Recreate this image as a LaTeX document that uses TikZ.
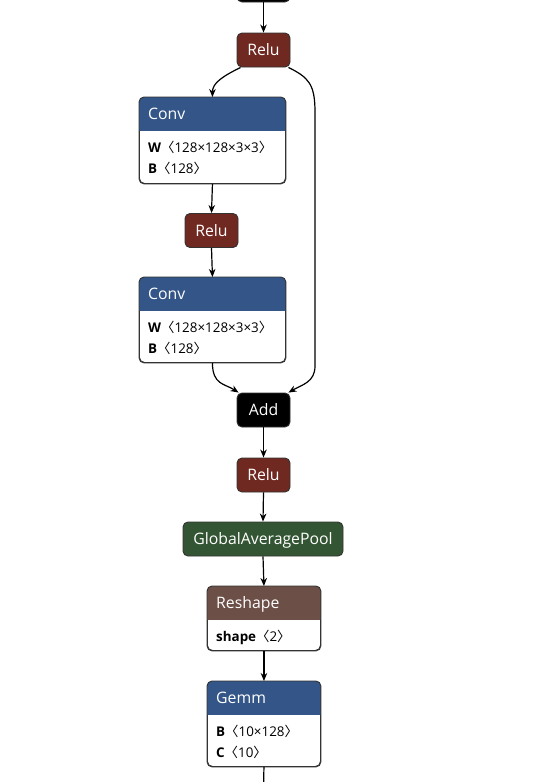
\documentclass[tikz,border=0pt]{standalone}
\usepackage{fontspec}
\setmainfont{Open Sans}
\newfontfamily\cjkfont{Noto Sans CJK SC}
\usetikzlibrary{arrows.meta}
\definecolor{actc}{RGB}{112,41,33}
\definecolor{layerc}{RGB}{51,85,136}
\definecolor{poolc}{RGB}{51,85,51}
\definecolor{shapec}{RGB}{108,79,71}
\definecolor{borderc}{RGB}{51,51,51}
\newcommand{\abra}{{\cjkfont 〈}}
\newcommand{\aket}{{\cjkfont 〉}}
% compound node: name, x-left, y-top, width, height, header colour
\newcommand{\compnode}[6]{%
  \node[cbox, minimum width=#4pt, minimum height=#5pt, anchor=north west] (#1) at (#2,#3) {};
  \begin{scope}
    \clip[rounded corners=5pt] (#1.north west) rectangle (#1.south east);
    \fill[#6] (#1.north west) rectangle ([yshift=-34pt]#1.north east);
  \end{scope}
  \draw[borderc, line width=0.9pt, rounded corners=5pt] (#1.north west) rectangle (#1.south east);
}
\begin{document}
\begin{tikzpicture}[x=1pt,y=-1pt,
  op/.style={rounded corners=5pt, draw=borderc, line width=0.9pt, minimum height=34pt,
    inner sep=0pt, text=white, font=\fontsize{15.8}{18}\selectfont, text height=11.5pt, text depth=0pt},
  cbox/.style={draw=borderc, fill=white, line width=0.9pt, rounded corners=5pt, inner sep=0pt},
  hdr/.style={anchor=west, inner sep=0pt, text=white, font=\fontsize{15.8}{18}\selectfont, text height=11.5pt, text depth=0pt},
  attr/.style={anchor=west, inner sep=0pt, text=black, font=\fontsize{13.4}{16}\selectfont, text height=9.6pt, text depth=0pt},
  edge/.style={line width=1.2pt, -{Stealth[length=8pt,width=6.5pt,inset=2.5pt]}},
]
\useasboundingbox[fill=white] (0,0) rectangle (537,782);

% top (cut off) node
\node[op, fill=black, minimum width=53pt] (top) at (263.5,-15) {};

\node[op, fill=actc, minimum width=53pt] (relu1) at (263.5,50) {Relu};

\compnode{conv1}{139}{97}{146}{86}{layerc}
\node[hdr] (conv1t) at (148,114) {Conv};
\node[attr] (conv1w) at (148,148) {\textbf{W}\abra 128×128×3×3\aket};
\node[attr] (conv1b) at (148,168.5) {\textbf{B}\abra 128\aket};

\node[op, fill=actc, minimum width=53pt] (relu2) at (211.5,230.5) {Relu};

\compnode{conv2}{139}{277}{146}{85}{layerc}
\node[hdr] (conv2t) at (148,294) {Conv};
\node[attr] (conv2w) at (148,328) {\textbf{W}\abra 128×128×3×3\aket};
\node[attr] (conv2b) at (148,348.5) {\textbf{B}\abra 128\aket};

\node[op, fill=black, minimum width=53pt] (add) at (263.5,410) {Add};

\node[op, fill=actc, minimum width=53pt] (relu3) at (263.5,475) {Relu};

\node[op, fill=poolc, minimum width=160pt] (gap) at (263,539) {GlobalAveragePool};

\compnode{reshape}{207}{586}{113}{64}{shapec}
\node[hdr] (reshapet) at (216,603) {Reshape};
\node[attr] (reshapes) at (216,636.5) {\textbf{shape}\abra 2\aket};

\compnode{gemm}{207}{681}{113}{85}{layerc}
\node[hdr] (gemmt) at (216,698) {Gemm};
\node[attr] (gemmb) at (216,732) {\textbf{B}\abra 10×128\aket};
\node[attr] (gemmc) at (216,752.5) {\textbf{C}\abra 10\aket};

\coordinate (sk1) at (315,112);
\coordinate (sk2) at (315,366);
\coordinate (out) at (263.5,790);

% edges
\draw[edge] (top.south) -- (relu1.north);
\draw[edge] ([xshift=-23pt]relu1.south) .. controls +(-18,9) and +(0,-14) .. (conv1.north);
\draw[edge] ([xshift=25pt]relu1.south) .. controls +(20,10) and +(0,-28) .. (sk1) -- (sk2)
  .. controls +(0,16) and +(14,-8) .. ([xshift=-2pt]add.north east);
\draw[edge] (conv1.south) -- (relu2.north);
\draw[edge] (relu2.south) -- (conv2.north);
\draw[edge] (conv2.south) .. controls +(0,22) and +(-14,-9) .. ([xshift=2pt]add.north west);
\draw[edge] (add.south) -- (relu3.north);
\draw[edge] (relu3.south) -- (gap.north);
\draw[edge] (gap.south) -- (reshape.north);
\draw[edge] (reshape.south) -- (gemm.north);
\draw[line width=1.2pt] (gemm.south) -- (out);
\end{tikzpicture}
\end{document}
